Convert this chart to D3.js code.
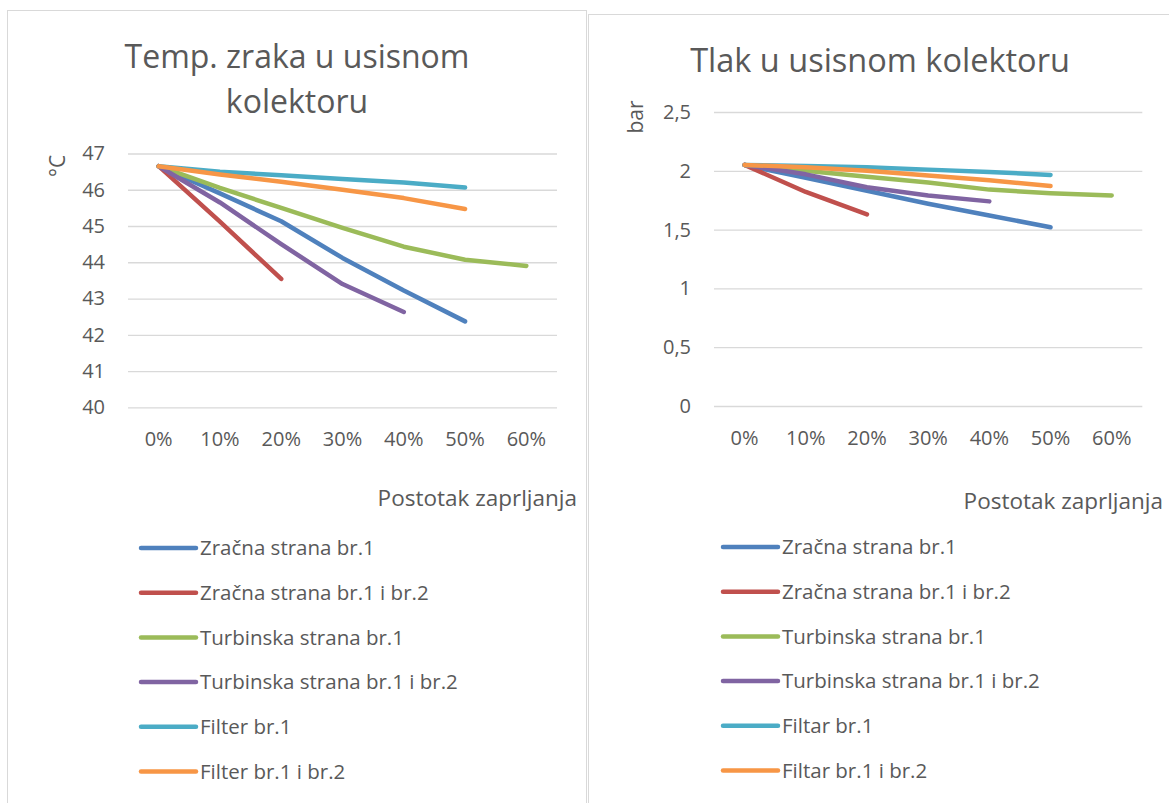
<!DOCTYPE html>
<html>
<head>
<meta charset="utf-8">
<script src="https://cdn.jsdelivr.net/npm/d3@7"></script>
<style>
  html, body { margin: 0; padding: 0; background: #fff; }
  svg { display: block; }
  text { font-family: "Open Sans", "Liberation Sans", sans-serif; fill: #595959; }
</style>
</head>
<body>
<svg id="chart" width="1169" height="803"></svg>
<script>
// ---------- DATA ----------
const categories = ["0%", "10%", "20%", "30%", "40%", "50%", "60%"];
const colors = ["#4F81BD", "#C0504D", "#9BBB59", "#8064A2", "#4BACC6", "#F79646"];

// Chart 1: Temp. zraka u usisnom kolektoru (°C)
const tempNames = ["Zračna strana br.1", "Zračna strana br.1 i br.2", "Turbinska strana br.1",
                   "Turbinska strana br.1 i br.2", "Filter br.1", "Filter br.1 i br.2"];
const tempZracna1      = [46.65, 45.90, 45.13, 44.12, 43.22, 42.37];
const tempZracna12     = [46.65, 45.12, 43.54];
const tempTurbinska1   = [46.65, 46.05, 45.50, 44.95, 44.43, 44.07, 43.90];
const tempTurbinska12  = [46.65, 45.65, 44.50, 43.40, 42.63];
const tempFilter1      = [46.65, 46.50, 46.40, 46.30, 46.20, 46.06];
const tempFilter12     = [46.65, 46.42, 46.22, 46.00, 45.77, 45.47];
const tempTicks = [40, 41, 42, 43, 44, 45, 46, 47];

// Chart 2: Tlak u usisnom kolektoru (bar)
const presNames = ["Zračna strana br.1", "Zračna strana br.1 i br.2", "Turbinska strana br.1",
                   "Turbinska strana br.1 i br.2", "Filtar br.1", "Filtar br.1 i br.2"];
const presZracna1      = [2.05, 1.94, 1.83, 1.72, 1.62, 1.52];
const presZracna12     = [2.05, 1.82, 1.63];
const presTurbinska1   = [2.05, 2.00, 1.95, 1.90, 1.84, 1.81, 1.79];
const presTurbinska12  = [2.05, 1.97, 1.86, 1.79, 1.74];
const presFilter1      = [2.05, 2.04, 2.03, 2.01, 1.99, 1.965];
const presFilter12     = [2.05, 2.03, 2.00, 1.96, 1.92, 1.87];
const presTicks = [0, 0.5, 1, 1.5, 2, 2.5];

// ---------- DRAW ----------
const svg = d3.select("#chart");
const fmtComma = d => String(d).replace(".", ",");

function drawChart(cfg) {
  const g = svg.append("g");
  // chart frame
  g.append("rect")
    .attr("x", cfg.frame[0] + 0.5).attr("y", cfg.frame[1] + 0.5)
    .attr("width", cfg.frame[2]).attr("height", cfg.frame[3])
    .attr("fill", "#fff").attr("stroke", "#D9D9D9").attr("stroke-width", 1);

  const x = d3.scaleBand().domain(categories).range([cfg.plot.left, cfg.plot.right]);
  const y = d3.scaleLinear().domain(cfg.yDomain).range([cfg.plot.bottom, cfg.plot.top]);

  // gridlines + y labels
  const yAxis = d3.axisLeft(y).tickValues(cfg.ticks)
    .tickSize(-(cfg.plot.right - cfg.plot.left)).tickPadding(23)
    .tickFormat(cfg.tickFormat);
  const ya = g.append("g").attr("transform", `translate(${cfg.plot.left},0)`).call(yAxis);
  ya.select(".domain").remove();
  ya.selectAll("line").attr("stroke", "#D9D9D9").attr("stroke-width", 1.3);
  ya.selectAll("text").attr("font-size", 20).attr("fill", "#595959")
    .style("font-family", '"Open Sans", sans-serif');

  // x labels
  const xAxis = d3.axisBottom(x).tickSize(0).tickPadding(25);
  const xa = g.append("g").attr("transform", `translate(0,${cfg.plot.bottom})`).call(xAxis);
  xa.select(".domain").remove();
  xa.selectAll("text").attr("font-size", 20).attr("fill", "#595959")
    .style("font-family", '"Open Sans", sans-serif');

  // lines
  const line = d3.line()
    .x((d, i) => x(categories[i]) + x.bandwidth() / 2)
    .y(d => y(d));
  cfg.series.forEach((s, i) => {
    g.append("path").datum(s)
      .attr("d", line)
      .attr("fill", "none")
      .attr("stroke", colors[i])
      .attr("stroke-width", 4.5)
      .attr("stroke-linecap", "round")
      .attr("stroke-linejoin", "round");
  });

  // title
  const t = g.append("text").attr("text-anchor", "middle").attr("font-size", cfg.titleSize);
  cfg.title.forEach((ln, i) => {
    t.append("tspan").attr("x", cfg.titleX).attr("y", cfg.titleY + i * cfg.titleLH).text(ln);
  });

  // y axis title
  g.append("text")
    .attr("transform", `translate(${cfg.yTitle[0]},${cfg.yTitle[1]}) rotate(-90)`)
    .attr("text-anchor", "middle").attr("dy", "0.35em")
    .attr("font-size", 21).text(cfg.yTitleText);

  // x axis title
  g.append("text").attr("x", cfg.xTitle[0]).attr("y", cfg.xTitle[1])
    .attr("text-anchor", "end").attr("font-size", 22.5).text("Postotak zaprljanja");

  // legend
  const leg = g.append("g");
  cfg.names.forEach((n, i) => {
    const ly = cfg.legend.y0 + i * cfg.legend.step;
    leg.append("line")
      .attr("x1", cfg.legend.x).attr("x2", cfg.legend.x + 55)
      .attr("y1", ly).attr("y2", ly)
      .attr("stroke", colors[i]).attr("stroke-width", 4.5).attr("stroke-linecap", "round");
    leg.append("text").attr("x", cfg.legend.x + 59).attr("y", ly).attr("dy", "0.35em")
      .attr("font-size", 20.5).text(n);
  });
}

drawChart({
  frame: [7, 10, 579, 820],
  plot: { left: 128, right: 557, top: 153.5, bottom: 407.3 },
  yDomain: [40, 47], ticks: tempTicks, tickFormat: d3.format("d"),
  series: [tempZracna1, tempZracna12, tempTurbinska1, tempTurbinska12, tempFilter1, tempFilter12],
  names: tempNames,
  title: ["Temp. zraka u usisnom", "kolektoru"], titleX: 297, titleY: 68, titleLH: 45, titleSize: 32,
  yTitle: [58, 166], yTitleText: "°C",
  xTitle: [577, 506],
  legend: { x: 141, y0: 548, step: 44.7 }
});

drawChart({
  frame: [588, 14, 600, 820],
  plot: { left: 714, right: 1142.3, top: 112, bottom: 406 },
  yDomain: [0, 2.5], ticks: presTicks, tickFormat: fmtComma,
  series: [presZracna1, presZracna12, presTurbinska1, presTurbinska12, presFilter1, presFilter12],
  names: presNames,
  title: ["Tlak u usisnom kolektoru"], titleX: 880, titleY: 72, titleLH: 45, titleSize: 32.5,
  yTitle: [636, 117], yTitleText: "bar",
  xTitle: [1163, 509],
  legend: { x: 723, y0: 547, step: 44.7 }
});
</script>
</body>
</html>
